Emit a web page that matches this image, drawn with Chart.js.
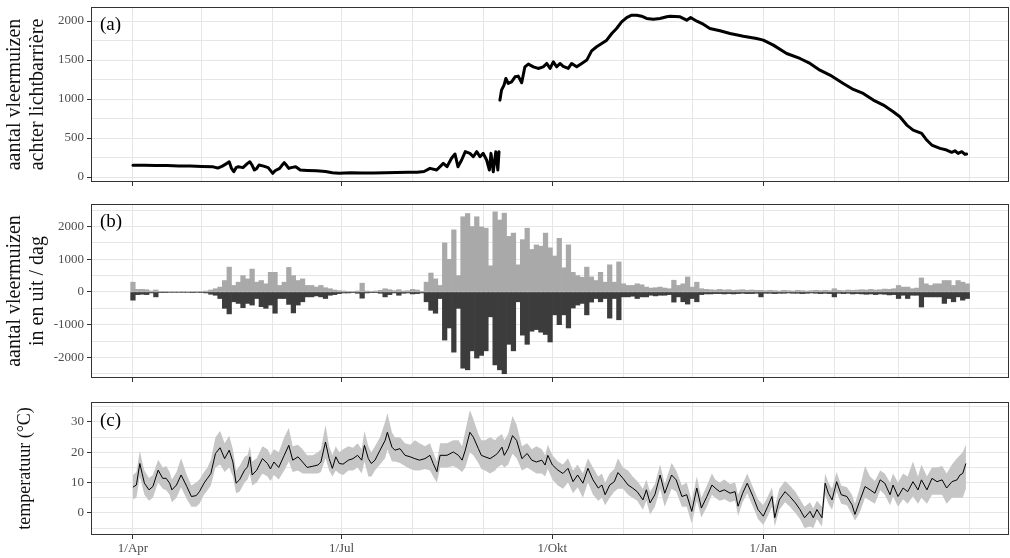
<!DOCTYPE html>
<html><head><meta charset="utf-8">
<script src="https://cdn.jsdelivr.net/npm/chart.js@4.4.0/dist/chart.umd.min.js"></script>
<style>
html,body{margin:0;padding:0;background:#fff;}
#wrap{position:relative;width:1010px;height:558px;overflow:hidden;background:#fff;}
canvas{position:absolute;left:0;}
</style></head><body>
<div id="wrap">
<canvas id="ca" width="1010" height="192" style="top:0px"></canvas>
<canvas id="cb" width="1010" height="192" style="top:195px"></canvas>
<canvas id="cc" width="1010" height="168" style="top:390px"></canvas>
</div>
<script>
// ---------- x axis (days since 1 April) ----------
const monthDays = [0,30,61,91,122,153,183,214,244,275,306,334,365];
const majorDays = [0,91,183,275];
const majorLabels = ['1/Apr','1/Jul','1/Okt','1/Jan'];

// ---------- panel (a): bats behind light barrier ----------
const aDay = [0,5,10,15,20,25,30,35,37,39,41,42,43,44,45,46,48,50,51,52,53,54,55,57,59,61,62,64,65,66,67,68,69,71,73,76,80,84,87,90,95,100,105,110,115,120,124,127,129.6,132.5,135.4,137,139,140.5,141.8,143.4,145,147,148.5,150,151.4,152.8,154.3,155.5,156.2,157.2,158.3,159.2,159.7,159.9,160.1,160.8,161.9,162.7,163.7,165.2,166.7,168.1,169.6,171,172.5,174.7,176.8,179,180.5,182,183.4,184.9,186.3,187.7,189.9,191.4,193.6,195.8,198,200.1,202.3,204.5,206.7,208.9,211,213.2,215.4,217.6,219.8,221.9,224.1,227,229.9,232.9,234.3,238.7,241.6,243.3,246,248.8,251.7,256.1,260.5,266.3,272.1,275,279.4,285.2,291,295.4,299.7,304.1,309.9,314.3,318.6,323,327.4,331.7,334.6,337.6,340.4,344.1,346.3,348.5,352.1,355,357.2,358.6,360,361.6,363,363.7];
const aCount = [150,150,148,146,142,140,135,130,115,140,175,195,110,68,120,132,120,175,196,150,90,110,154,140,120,47,80,111,150,184,150,110,120,132,90,85,80,70,55,47,55,50,52,55,58,60,62,70,111,90,175,132,240,295,132,218,325,303,260,325,260,303,218,90,303,68,325,90,325,null,986,1114,1178,1264,1200,1221,1285,1294,1208,1413,1448,1413,1392,1413,1456,1392,1477,1413,1456,1420,1392,1456,1413,1456,1499,1618,1670,1712,1755,1840,1904,1990,2045,2075,2075,2062,2033,2024,2033,2054,2062,2054,2011,2045,1998,1960,1905,1875,1840,1806,1776,1755,1691,1584,1520,1456,1370,1307,1200,1123,1072,986,922,837,773,666,602,559,474,410,367,346,316,337,303,325,290,295];
const aTicks = [0,250,500,750,1000,1250,1500,1750,2000];
const aMajor = [0,500,1000,1500,2000];

// ---------- panel (b): bats in / out per day (2-day bins) ----------
const bStartDay = 0, bBinDays = 2;
const bIn = [300,80,80,70,30,60,20,20,15,15,15,20,15,15,20,20,30,60,100,150,350,760,200,300,500,400,700,300,350,250,600,600,200,300,750,500,350,400,200,200,150,200,130,100,60,40,30,20,20,30,270,30,20,30,50,100,70,40,70,30,40,80,60,20,300,580,400,200,1500,1000,1900,500,2300,2400,2000,2300,1990,1950,800,2450,2200,2410,1700,1800,830,1600,1950,1300,1440,1400,1800,1350,1100,1640,740,1440,600,500,450,760,460,350,600,300,830,300,920,250,200,200,250,220,150,120,130,150,120,100,360,200,250,460,150,300,100,80,70,60,80,60,70,50,60,70,50,60,50,50,40,50,40,30,50,40,30,50,40,30,40,50,40,50,40,100,50,40,60,50,60,70,60,80,60,70,90,80,100,200,150,150,100,120,430,250,200,250,250,350,350,200,350,300,250];
const bOut = [-250,-80,-70,-80,-30,-150,-20,-20,-15,-15,-15,-15,-15,-20,-15,-20,-30,-70,-100,-200,-500,-670,-300,-350,-480,-350,-400,-200,-450,-500,-400,-650,-200,-200,-380,-640,-400,-300,-150,-150,-120,-150,-200,-100,-80,-50,-30,-30,-20,-40,-190,-30,-20,-20,-40,-150,-80,-30,-100,-40,-30,-60,-50,-30,-300,-560,-650,-200,-1470,-1100,-1840,-500,-2330,-2380,-1800,-2020,-1940,-1800,-760,-2230,-2380,-2500,-1600,-1800,-300,-1320,-1600,-1200,-1150,-1230,-1300,-1530,-700,-1000,-700,-1100,-490,-400,-350,-700,-310,-200,-300,-200,-800,-200,-850,-150,-150,-130,-200,-150,-150,-100,-120,-100,-100,-80,-310,-150,-300,-370,-200,-300,-80,-60,-60,-50,-50,-60,-50,-60,-50,-40,-50,-50,-40,-150,-40,-40,-50,-40,-40,-30,-40,-40,-50,-40,-30,-40,-50,-40,-50,-150,-40,-50,-40,-60,-50,-60,-70,-60,-80,-60,-70,-90,-80,-200,-100,-200,-100,-100,-460,-150,-150,-150,-150,-350,-200,-300,-150,-250,-200];
const bTicks = [-2500,-2000,-1500,-1000,-500,0,500,1000,1500,2000,2500];
const bMajor = [-2000,-1000,0,1000,2000];

// ---------- panel (c): temperature ----------
const tDay = [0,1.5,3,4,5,7,8.7,11,13,14.5,16,17,19,21,23.5,25.5,27.6,29,31,32.5,34,36,38,40,42,43.6,45,46.5,48.7,50,51,52,54,56.5,58.7,60,61.5,63.6,66,68,69.7,72,74,76,78.5,80.7,82,84,85.6,87,88.5,90,91.7,94,96,98,99.8,101,102.7,104,105.6,107.8,110,111,113,114.3,116.5,118.7,121,123,125,127.4,129.6,131,132.6,134,137,139.8,142,143.6,145,147,148.5,150.7,152,153.6,155.8,158,159,161,162,163.7,165.6,167.4,169.7,172,174,176,178.4,179.8,181,183,185.4,187.6,189.8,192,194,196.3,198.5,200.7,203,204.6,206,208,210,211.6,213.8,216,218,220,222.5,224,225.6,227.7,230,232,235,237,239.5,241.6,243.8,246,248,250.4,252.6,254,256,258,260.5,262.7,264,266,268,270.5,272.7,275,277,278.8,280,282,284.5,286.6,289,291,293,295.4,296.8,298.4,300.6,302,303.4,305,307,309,311.5,313.7,315,317,319.4,321.6,323.7,326,328,330.3,331.6,333.8,336,338,340.3,342.5,344,346.4,348.6,350.8,353,355,357.3,359.5,360.8,362,363.4];
const tMean = [8.5,9.2,16.3,13,9.8,7.6,8.7,14.1,11.4,11.4,9.8,7.6,9.2,12.5,8.7,5.4,5.7,7,9.8,11.4,13,19.6,21.5,17.9,20.7,16.8,9.8,10.9,14.1,15.2,18.5,12.5,14.1,17.9,16.3,14.5,16.8,15,19,22.3,17.4,18.5,16.8,15,15.4,15.8,16.8,23.4,17.9,14.7,18.5,16.3,16.1,17.4,17.9,19,17.4,22.3,17.9,16.3,17.4,20.7,23.9,26.6,21.7,20.7,21.2,19,18.5,17.9,17.4,17.9,19,16.3,13.6,19,19,20.1,19,17.4,20.7,26.6,25,21.2,19,18.5,17.9,19,19.6,21.7,19,21.2,25.5,23.9,17.9,19.6,17.4,16.8,17.4,15.8,19,15.8,14.1,13,14.7,10.3,12.5,9.8,14.7,10.9,8.2,9.2,6,9.2,10.3,13.3,11.4,9.2,8.2,7,4.3,7.6,3.3,6,12.5,6.5,12.5,10.9,5.4,6,0.5,8.2,1.6,5.4,9.2,8.2,7,7.6,6.5,7,2.2,6.5,9.8,5.4,1.1,-1.1,2.2,5.4,-1.6,4.3,7,5.4,3.3,1.1,-1.6,0.5,-1.6,1.1,-1.6,9.8,6.5,4.3,10.3,6,5.4,2.7,-0.5,3.8,8.7,7.6,6.5,10.9,9.8,6,9.2,5.4,8.2,7,10.3,7.6,10.9,7.6,11.4,10.3,10.9,8.2,10.3,10.9,12.5,13,16.3];
const tLow = [4.5,5,12,9,6,4,5,10,8,7.5,6,3.5,5,8.5,4.5,2,2,3,6,7.5,9,15,16,13.5,15,12,6.5,7,10,11,13,9,10,13,12,10.5,12.5,11,14,17,13.5,14,13,13,13,13,13.5,18,14,12,14,13,12.5,14,14,15,13,17,12,12,14,16,18,21,17,17,16.5,15.5,14.5,14,14,14.5,14,12,10,15,15,15.5,14.5,13.5,15,20,19,16.5,14.5,14,13,14,15,16,15,16,19.5,18,14,15,14,13,13,12,14.5,11,9,8,10,6.5,8.5,5,10,6,4,5,2.5,5,7,8,8,6,5,4,1,4,-0.5,2,8,2,8,7,2,2,-3.5,4,-1.5,2,6,5,4,4.5,3.5,4,-1,3.5,6.5,2,-2,-4,-1,2,-4.5,1,3.5,2,0,-2,-5,-4.5,-5,-2,-4.5,6,3,1,7,3,2.5,-0.5,-2.5,0,5,4,3,7.5,6,2.5,5.5,2,4.5,3,5.5,3,5,3,6,6,6,3,5,5,5,5,8];
const tHigh = [12.5,13.5,20.5,17,14,11.5,12.5,17.5,15,15.5,13.5,11,13.5,18,12.5,9,10,11,13.5,15,17.5,25,27,23,25.5,21,14,15.5,18.5,19,22,17,18,22,21,19,21,20,25,28,22,22.5,21,19,19,20,21,29,22,19,22,20,21,22,21.5,23,21,27,22,20,22,25,30,33,26.5,25,25,23,22.5,24,23,22,23,20,17,23,23,24,24,22,27,34,31,26,24,24,25,24,25,26,24,26,32,29,22,23,21,22,21,19,22.5,19,17,16,18,14,16,13,18,15,12,13,10,13,14.5,18,15,14,12,10.5,8,11,7,9.5,16,9.5,16.5,14,9,10,4,12,5,9,13,11,10,11,9.5,10,6,9.5,13,8.5,4.5,2.5,5.5,8.5,2,8,10.5,9,7,4.5,2,3.5,1.5,4,2,13,10,8,13.5,9,8.5,6,3,8,15.5,12,10.5,14,13,10,13,10,13,12,17,12,16,12,15,15,15.5,13,16,18,19,20,22.5];
const cTicks = [-5,0,5,10,15,20,25,30,35];
const cMajor = [0,10,20,30];

// ---------- shared styling ----------
const serif = 'Liberation Serif';
const gridCol = '#e6e6e6';
const tickCol = '#333333';
const labCol = '#4d4d4d';
const X_MIN = -18.3, X_MAX = 382.2;

function xScale(showLabels, h) {
  return {
    type: 'linear', min: X_MIN, max: X_MAX, offset: false,
    afterBuildTicks: s => { s.ticks = monthDays.map(v => ({value: v})); },
    ticks: {
      autoSkip: false, maxRotation: 0, minRotation: 0, color: labCol, padding: 2,
      font: {family: serif, size: 13},
      callback: v => { const i = majorDays.indexOf(v); return (showLabels && i >= 0) ? majorLabels[i] : ''; }
    },
    grid: {
      offset: false,
      color: gridCol, lineWidth: 1, tickLength: 4, drawTicks: true,
      tickColor: c => (c.tick && majorDays.includes(c.tick.value)) ? tickCol : 'rgba(0,0,0,0)'
    },
    border: {display: false},
    afterFit: s => { s.height = h; s.paddingLeft = 0; s.paddingRight = 0; }
  };
}
function yScale(min, max, ticks, major, title, titleSize, titleLH, titlePad) {
  return {
    type: 'linear', min: min, max: max,
    afterBuildTicks: s => { s.ticks = ticks.map(v => ({value: v})); },
    ticks: {
      autoSkip: false, color: labCol, padding: 3,
      font: {family: serif, size: 13},
      callback: v => major.includes(v) ? String(v) : ''
    },
    grid: {
      color: gridCol, lineWidth: 1, tickLength: 4, drawTicks: true,
      tickColor: c => (c.tick && major.includes(c.tick.value)) ? tickCol : 'rgba(0,0,0,0)'
    },
    border: {display: false},
    title: {
      display: true, text: title, color: '#111',
      font: {family: serif, size: titleSize, lineHeight: titleLH},
      padding: {top: titlePad, bottom: 0}
    },
    afterFit: s => { s.width = 91; s.paddingTop = 0; s.paddingBottom = 0; }
  };
}
const deco = {
  id: 'deco',
  afterDraw(chart, args, o) {
    const {ctx, chartArea: a} = chart;
    ctx.save();
    ctx.strokeStyle = '#333333'; ctx.lineWidth = 1;
    ctx.strokeRect(Math.round(a.left) + 0.5, Math.round(a.top) + 0.5,
                   Math.round(a.right - a.left) - 1, Math.round(a.bottom - a.top) - 1);
    ctx.fillStyle = '#000';
    ctx.font = '19px "' + serif + '"';
    ctx.textAlign = 'left'; ctx.textBaseline = 'middle';
    ctx.fillText(o.label, a.left + 9, a.top + o.dy);
    ctx.restore();
  }
};
function baseOpts(padTop) {
  return {
    responsive: false, animation: false, events: [], devicePixelRatio: 1,
    layout: {padding: {top: padTop, left: 0, right: 1, bottom: 0}},
    plugins: {legend: {display: false}, tooltip: {enabled: false}}
  };
}

// ---------- chart (a) ----------
const optA = baseOpts(7);
optA.plugins.deco = {label: '(a)', dy: 18};
optA.scales = {
  x: xScale(false, 10),
  y: yScale(-64, 2180, aTicks, aMajor, ['aantal vleermuizen', 'achter lichtbarrière'], 20, 1.15, 3.5)
};
new Chart(document.getElementById('ca'), {
  type: 'line',
  data: {datasets: [{
    data: aDay.map((d, i) => ({x: d, y: aCount[i]})),
    borderColor: '#000', borderWidth: 3, pointRadius: 0, tension: 0,
    borderJoinStyle: 'round', borderCapStyle: 'round', spanGaps: false, fill: false
  }]},
  options: optA, plugins: [deco]
});

// ---------- chart (b) ----------
const bDay = bIn.map((_, i) => bStartDay + i * bBinDays);
const optB = baseOpts(9);
optB.plugins.deco = {label: '(b)', dy: 18};
optB.scales = {
  x: xScale(false, 9),
  y: yScale(-2630, 2690, bTicks, bMajor, ['aantal vleermuizen', 'in en uit / dag'], 20, 1.15, 3.5)
};
new Chart(document.getElementById('cb'), {
  type: 'bar',
  data: {datasets: [
    {data: bDay.map((d, i) => ({x: d, y: bIn[i]})), backgroundColor: '#a9a9a9',
     borderWidth: 0, barPercentage: 1, categoryPercentage: 1, grouped: false},
    {data: bDay.map((d, i) => ({x: d, y: bOut[i]})), backgroundColor: '#3c3c3c',
     borderWidth: 0, barPercentage: 1, categoryPercentage: 1, grouped: false}
  ]},
  options: optB, plugins: [deco]
});

// ---------- chart (c) ----------
const optC = baseOpts(12);
optC.plugins.deco = {label: '(c)', dy: 19};
optC.scales = {
  x: xScale(true, 23),
  y: yScale(-7.3, 36.6, cTicks, cMajor, 'temperatuur (°C)', 18, 1.27, 13.5)
};
new Chart(document.getElementById('cc'), {
  type: 'line',
  data: {datasets: [
    {data: tDay.map((d, i) => ({x: d, y: tMean[i]})), borderColor: '#000', borderWidth: 1,
     pointRadius: 0, tension: 0, fill: false},
    {data: tDay.map((d, i) => ({x: d, y: tHigh[i]})), borderWidth: 0, borderColor: 'rgba(0,0,0,0)',
     pointRadius: 0, tension: 0, fill: '+1', backgroundColor: '#c6c6c6'},
    {data: tDay.map((d, i) => ({x: d, y: tLow[i]})), borderWidth: 0, borderColor: 'rgba(0,0,0,0)',
     pointRadius: 0, tension: 0, fill: false}
  ]},
  options: optC, plugins: [deco]
});
</script>
</body></html>
